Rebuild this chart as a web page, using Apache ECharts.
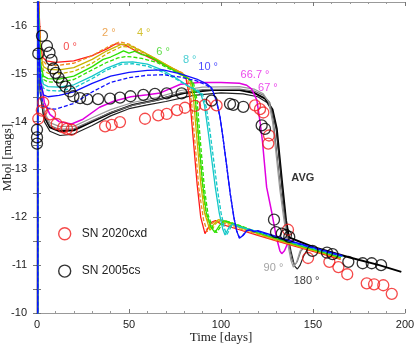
<!DOCTYPE html>
<html>
<head>
<meta charset="utf-8">
<script src="https://cdn.jsdelivr.net/npm/echarts@6/dist/echarts.min.js"></script>
<style>
  html, body { margin: 0; padding: 0; background: #fff; }
  #chart { width: 415px; height: 345px; }
</style>
</head>
<body>
<div id="chart"></div>
<script>
// observed light curves [days, Mbol]
const sn2020cxd = [
  [0.7, -14.06], [2.6, -14.23], [3.4, -14.40], [7.1, -14.15], [10.7, -13.95], [14.3, -13.88],
  [16.3, -13.85], [18.8, -13.83], [37, -13.90], [40.6, -13.93], [45.1, -13.99], [58.7, -14.06],
  [65.9, -14.13], [70.5, -14.16], [76.1, -14.24], [80.4, -14.29], [85.9, -14.33], [91.3, -14.35],
  [97.6, -14.34], [118.5, -14.34], [121.2, -14.26], [123, -14.19], [126.1, -13.71], [125.7, -13.54],
  [136.4, -11.74], [147.3, -11.15], [158.9, -11.07], [163.8, -10.96], [168.6, -10.81],
  [179.2, -10.62], [183.2, -10.60], [188.2, -10.58], [192.8, -10.40]
];
const sn2005cs = [
  [0, -13.54], [0, -13.67], [0, -13.83], [0.7, -15.42], [2.7, -15.79], [5.4, -15.58], [6.8, -15.44],
  [7.9, -15.29], [8.9, -15.11], [10.1, -15.02], [11.7, -14.92], [13.6, -14.82], [15.5, -14.73],
  [17.9, -14.63], [19.8, -14.53], [23.4, -14.49], [27.3, -14.47], [33.2, -14.47], [39.7, -14.48],
  [45.1, -14.50], [50.8, -14.53], [57.8, -14.56], [64.1, -14.58], [70.5, -14.59], [78.6, -14.59],
  [94.9, -14.44], [104.9, -14.37], [106.7, -14.35], [112.1, -14.31], [122.1, -13.92], [123.9, -13.85],
  [128.8, -11.95], [129.9, -11.69], [133, -11.66], [135.3, -11.63], [137.1, -11.59], [149.7, -11.30],
  [157.6, -11.26], [160.6, -11.23], [169.2, -11.07], [177, -11.04], [181.9, -11.04], [187, -11.00]
];

// model light curves [days, Mbol]
const deg0 = [
  [0.4, -9.9], [0.5, -16.9], [1, -16.4], [2, -15.6], [3, -15.35], [5, -15.27], [10, -15.24], [20, -15.27],
  [30, -15.38], [38, -15.52], [43, -15.63], [48, -15.6], [55, -15.45], [62, -15.32], [70, -15.17],
  [77, -15.05], [81, -14.9], [83, -14.5], [85, -13.6], [87, -12.7], [89, -12.0], [91.3, -11.66],
  [93, -11.78], [95, -11.9], [97, -11.93], [100, -11.86], [110, -11.74], [120, -11.62], [130, -11.51],
  [140, -11.4], [150, -11.29], [160, -11.18], [165, -11.12]
];
const deg2 = [
  [0.4, -9.9], [0.5, -16.9], [1, -16.3], [2, -15.5], [3, -15.28], [5, -15.2], [10, -15.17], [20, -15.22],
  [30, -15.38], [38, -15.55], [45, -15.67], [50, -15.62], [57, -15.47], [64, -15.32], [72, -15.15],
  [79, -15.02], [82, -14.88], [84, -14.4], [86, -13.5], [88, -12.6], [90.5, -11.95], [92.5, -11.7],
  [94.5, -11.85], [97, -11.93], [100, -11.9], [110, -11.76], [120, -11.64], [130, -11.52],
  [140, -11.41], [150, -11.3], [160, -11.19], [165, -11.13]
];
const deg4 = [
  [0.4, -9.9], [0.5, -16.9], [1, -16.2], [2, -15.4], [3.5, -15.15], [6, -15.09], [12, -15.08], [20, -15.13],
  [30, -15.3], [38, -15.48], [46, -15.62], [50, -15.6], [57, -15.47], [64, -15.33], [72, -15.15],
  [80, -14.98], [83, -14.88], [85, -14.5], [87, -13.6], [89, -12.7], [91, -12.1], [94, -11.73],
  [96, -11.85], [98.5, -11.95], [101, -11.92], [110, -11.79], [120, -11.66], [130, -11.54],
  [140, -11.42], [150, -11.31], [160, -11.2], [165, -11.14]
];
const deg4b = [
  [0.4, -9.9], [0.5, -16.9], [1, -16.1], [2, -15.3], [3.5, -15.07], [6, -15.01], [12, -15.0], [20, -15.05],
  [30, -15.22], [38, -15.42], [46, -15.57], [50, -15.56], [57, -15.45], [64, -15.32], [72, -15.15],
  [80, -14.98], [84, -14.84], [86, -14.45], [88, -13.5], [90, -12.6], [92, -12.0], [95, -11.74],
  [97, -11.86], [99.5, -11.95], [102, -11.93], [110, -11.81], [120, -11.67], [130, -11.55],
  [140, -11.43], [150, -11.32], [160, -11.21], [165, -11.15]
];
const deg6 = [
  [0.4, -9.9], [0.5, -16.9], [1, -16.0], [2, -15.2], [3.5, -14.95], [6, -14.9], [12, -14.89], [20, -14.95],
  [30, -15.15], [36, -15.3], [40, -15.35], [44, -15.42], [47, -15.48], [50, -15.43], [53, -15.47],
  [57, -15.4], [60, -15.38], [65, -15.28], [72, -15.12], [80, -14.95], [84, -14.85], [86, -14.5],
  [88, -13.6], [90, -12.7], [92, -12.1], [94.5, -11.8], [96.7, -11.68], [99, -11.82], [101.5, -11.93],
  [104, -11.9], [110, -11.82], [120, -11.68], [130, -11.56], [140, -11.44], [150, -11.33],
  [160, -11.22], [165, -11.16]
];
const deg6b = [
  [0.4, -9.9], [0.5, -16.9], [1, -15.9], [2, -15.1], [3.5, -14.88], [6, -14.83], [12, -14.82], [20, -14.88],
  [30, -15.08], [38, -15.24], [44, -15.33], [48, -15.36], [52, -15.35], [57, -15.32], [65, -15.24],
  [72, -15.1], [80, -14.94], [85, -14.82], [87, -14.45], [89, -13.5], [91, -12.6], [93, -12.05],
  [95.5, -11.78], [97.7, -11.68], [100, -11.82], [102.5, -11.92], [105, -11.9], [110, -11.83],
  [120, -11.69], [130, -11.57], [140, -11.45], [150, -11.34], [160, -11.23], [165, -11.17]
];
const deg8 = [
  [0.4, -9.9], [0.5, -16.9], [1, -15.8], [2, -15.0], [3.5, -14.78], [6, -14.73], [12, -14.72], [20, -14.77],
  [30, -14.95], [38, -15.12], [46, -15.24], [52, -15.25], [60, -15.2], [68, -15.08], [76, -14.9],
  [82, -14.75], [86, -14.66], [89, -14.58], [91, -14.35], [93, -13.8], [95, -13.2], [97, -12.6],
  [99, -12.1], [101, -11.75], [102.2, -11.63], [104.5, -11.8], [106.5, -11.86], [110, -11.8],
  [120, -11.7], [130, -11.58], [140, -11.46], [150, -11.35], [160, -11.24], [166, -11.18]
];
const deg8b = [
  [0.4, -9.9], [0.5, -16.9], [1, -15.7], [2, -14.9], [3.5, -14.7], [6, -14.65], [12, -14.64], [20, -14.7],
  [30, -14.9], [38, -15.08], [46, -15.2], [52, -15.21], [60, -15.16], [68, -15.04], [76, -14.88],
  [82, -14.74], [87, -14.66], [90, -14.57], [92, -14.3], [94, -13.8], [96, -13.2], [98, -12.6],
  [100, -12.1], [102, -11.75], [103.2, -11.64], [105.5, -11.8], [107.5, -11.85], [110, -11.8],
  [120, -11.7], [130, -11.58], [140, -11.46], [150, -11.35], [160, -11.24], [166, -11.18]
];
const deg10 = [
  [0.4, -9.9], [0.5, -16.9], [1, -15.6], [2, -14.8], [3.5, -14.56], [6, -14.52], [12, -14.55], [20, -14.62],
  [30, -14.8], [40, -14.95], [50, -15.03], [60, -15.07], [68.6, -15.08], [78, -15.0], [86.8, -14.89],
  [92.2, -14.79], [95, -14.7], [97.7, -14.41], [99.5, -14.09], [101.3, -13.6], [103, -13.1],
  [105, -12.5], [107, -12.0], [108.5, -11.72], [110, -11.56], [112, -11.62], [114, -11.72],
  [116, -11.74], [118, -11.7], [120, -11.72], [130, -11.6], [140, -11.48], [150, -11.37],
  [160, -11.26], [166, -11.2]
];
const deg10b = [
  [0.4, -9.9], [0.5, -16.9], [1, -15.4], [2, -14.6], [3.5, -14.32], [6, -14.28], [10, -14.26], [20, -14.38],
  [30, -14.62], [40, -14.82], [50, -14.92], [60, -14.97], [68.6, -14.98], [78, -14.93], [86.8, -14.85],
  [92.2, -14.76], [95, -14.68], [97.7, -14.4], [99.5, -14.09], [101.3, -13.6], [103, -13.1],
  [105, -12.5], [107, -12.0], [108.5, -11.72], [110, -11.58], [112, -11.63], [114, -11.72],
  [116, -11.73], [118, -11.7], [120, -11.71], [130, -11.59], [140, -11.47], [150, -11.36],
  [160, -11.25], [166, -11.19]
];
const deg667 = [
  [0.4, -9.9], [0.5, -16.9], [1, -15.8], [2, -14.9], [4, -14.4], [7, -14.15], [12, -14.0], [18.8, -13.95],
  [25, -14.05], [34, -14.3], [42, -14.43], [51, -14.52], [60, -14.56], [67, -14.6], [78, -14.78],
  [88, -14.82], [100, -14.82], [110, -14.8], [114, -14.76], [116.7, -14.68], [119.5, -14.45],
  [121.2, -14.0], [122.5, -13.6], [124.8, -12.63], [127.6, -12.1], [130, -11.6], [132, -11.3],
  [133, -11.24], [134.5, -11.3], [136.6, -11.49], [138, -11.52], [140, -11.47], [150, -11.35],
  [160, -11.24], [165, -11.18]
];
const deg90 = [
  [0.4, -9.9], [0.5, -16.9], [1, -15.6], [2, -14.7], [4, -14.2], [7, -13.98], [12, -13.9], [20, -13.9],
  [30, -14.08], [40, -14.25], [52, -14.4], [65, -14.5], [78, -14.65], [90, -14.72], [110, -14.73],
  [118, -14.68], [123, -14.58], [126, -14.4], [128, -14.0], [130, -13.3], [132, -12.57], [134, -12.0],
  [136, -11.5], [138, -11.1], [139.3, -10.96], [141, -11.05], [143, -11.3], [145, -11.38],
  [150, -11.34], [160, -11.23], [165, -11.17]
];
const deg90b = [
  [0.4, -9.9], [0.5, -16.9], [1, -15.5], [2, -14.6], [4, -14.15], [7, -13.92], [12, -13.84], [20, -13.85],
  [30, -14.02], [40, -14.19], [52, -14.34], [65, -14.45], [78, -14.6], [90, -14.67], [110, -14.68],
  [118, -14.64], [123, -14.55], [126.5, -14.4], [128.5, -14.0], [130.5, -13.3], [132.5, -12.57],
  [134.5, -12.0], [136.5, -11.5], [138.5, -11.12], [140, -11.0], [141.5, -11.08], [143.5, -11.3],
  [145.5, -11.38], [150, -11.34], [160, -11.23], [165, -11.17]
];
const deg180 = [
  [0.4, -9.9], [0.5, -16.9], [1, -15.4], [2, -14.5], [4, -14.0], [7, -13.8], [12.5, -13.71], [20, -13.74],
  [30, -13.92], [40, -14.12], [50, -14.27], [60, -14.35], [70, -14.42], [85, -14.55], [100, -14.6],
  [112, -14.58], [120, -14.52], [125, -14.4], [128, -14.2], [130, -13.85], [132, -13.1], [134, -12.3],
  [136, -11.7], [138, -11.3], [140, -10.98], [141.5, -10.92], [143, -11.0], [145, -11.2],
  [147, -11.33], [150, -11.34], [160, -11.23], [165, -11.17]
];
const avg = [
  [0.4, -9.9], [0.5, -16.9], [1, -15.5], [2, -14.6], [4, -14.1], [7, -13.88], [12, -13.8], [20, -13.82],
  [30, -14.0], [40, -14.18], [52, -14.35], [65, -14.45], [80, -14.6], [95, -14.66], [110, -14.66],
  [118, -14.6], [124, -14.48], [128, -14.25], [130.3, -13.85], [133, -12.8], [135.3, -11.94],
  [137, -11.58], [150, -11.38], [170, -11.16], [186, -11.0], [198, -10.86]
];

// curve labels
const annoText = ['0 °', '2 °', '4 °', '6 °', '8 °', '10 °', '66.7 °', '67 °', 'AVG', '90 °', '180 °'];
const annoPos = [
  [18, -15.55], [39, -15.85], [58, -15.85], [68.5, -15.45], [83, -15.28], [93, -15.14],
  [118.5, -14.98], [125.5, -14.71], [144.5, -12.82], [128.5, -10.94], [146.5, -10.67]
];
const annoColor = ['#f21d1d', '#e8912c', '#c9b300', '#35d61a', '#1ec3c8', '#1a1aff',
  '#e619e6', '#e619e6', '#000', '#8c8c8c', '#000'];

const chart = echarts.init(document.getElementById('chart'));

function curve(name, data, color, width, dashed) {
  return {
    name: name,
    type: 'line',
    data: data,
    symbol: 'none',
    silent: true,
    clip: true,
    lineStyle: { color: color, width: width, type: dashed ? [4, 2] : 'solid' }
  };
}

function obs(name, data, color) {
  return {
    name: name,
    type: 'scatter',
    data: data,
    symbol: 'circle',
    symbolSize: 11,
    z: 5,
    itemStyle: { color: 'rgba(0,0,0,0)', borderColor: color, borderWidth: 1.3 }
  };
}

const tickStyle = { inside: true, length: 4, lineStyle: { color: '#777' } };
const lineStyle = { lineStyle: { color: '#999', width: 1 } };

chart.setOption({
  animation: false,
  grid: { left: 37, right: 10, top: 2, bottom: 32, containLabel: false, outerBoundsMode: 'none' },
  xAxis: [
    {
      type: 'value', min: 0, max: 200, interval: 50,
      name: 'Time [days]', nameLocation: 'middle', nameGap: 18, nameMoveOverlap: false,
      nameTextStyle: { fontFamily: 'Liberation Serif', fontSize: 13, color: '#222' },
      axisLine: lineStyle, axisTick: tickStyle,
      minorTick: { show: true, splitNumber: 5, length: 2, lineStyle: { color: '#999' } },
      axisLabel: { fontSize: 11, color: '#222', margin: 6, fontFamily: 'Liberation Sans' },
      splitLine: { show: false }
    },
    {
      type: 'value', min: 0, max: 200, interval: 50, position: 'top',
      axisLine: lineStyle, axisTick: tickStyle,
      minorTick: { show: true, splitNumber: 5, length: 2, lineStyle: { color: '#999' } },
      axisLabel: { show: false }, splitLine: { show: false }
    }
  ],
  yAxis: [
    {
      type: 'value', min: -16.5, max: -10, interval: 0.5, inverse: true,
      name: 'Mbol [mags]', nameLocation: 'middle', nameGap: 23, nameMoveOverlap: false,
      nameTextStyle: { fontFamily: 'Liberation Serif', fontSize: 13, color: '#222' },
      axisLine: lineStyle, axisTick: tickStyle,
      axisLabel: {
        fontSize: 11, color: '#222', margin: 10, fontFamily: 'Liberation Sans',
        formatter: v => (Number.isInteger(v) ? String(v) : '')
      },
      splitLine: { show: false }
    },
    {
      type: 'value', min: -16.5, max: -10, interval: 0.5, inverse: true, position: 'right',
      axisLine: lineStyle, axisTick: tickStyle,
      axisLabel: { show: false }, splitLine: { show: false }
    }
  ],
  legend: {
    orient: 'vertical', left: 53, top: 222, itemGap: 24, itemWidth: 12, itemHeight: 12,
    textStyle: { fontSize: 12, color: '#222', fontFamily: 'Liberation Sans', padding: [0, 0, 0, 6] },
    data: [
      { name: 'SN 2020cxd', icon: 'circle',
        itemStyle: { color: 'rgba(0,0,0,0)', borderColor: '#f21d1d', borderWidth: 1.4 } },
      { name: 'SN 2005cs', icon: 'circle',
        itemStyle: { color: 'rgba(0,0,0,0)', borderColor: '#000', borderWidth: 1.4 } }
    ]
  },
  series: [
    curve('avg', avg, '#000', 2, false),
    curve('180', deg180, '#222', 1.2, false),
    curve('90b', deg90b, '#6e6e6e', 1.2, false),
    curve('90', deg90, '#9a9a9a', 1.2, false),
    curve('66.7', deg667, '#e000e0', 1.5, false),
    curve('0', deg0, '#ff1a1a', 1.3, false),
    curve('2', deg2, '#ee8a1c', 1.3, true),
    curve('4', deg4, '#c9b300', 1.3, false),
    curve('4b', deg4b, '#c9b300', 1.3, true),
    curve('6', deg6, '#2ee000', 1.3, false),
    curve('6b', deg6b, '#2ee000', 1.3, true),
    curve('8', deg8, '#14c8c8', 1.3, false),
    curve('8b', deg8b, '#14c8c8', 1.3, true),
    curve('10b', deg10b, '#1010ff', 1.3, true),
    curve('10', deg10, '#1010ff', 1.3, false),
    obs('SN 2020cxd', sn2020cxd, '#f21d1d'),
    obs('SN 2005cs', sn2005cs, '#000'),
    {
      name: 'labels',
      type: 'scatter',
      symbolSize: 0,
      silent: true,
      z: 6,
      data: annoText.map((s, i) => ({
        value: annoPos[i],
        label: {
          show: true, position: 'inside', formatter: s,
          color: annoColor[i], fontSize: 11, fontFamily: 'Liberation Sans',
          fontWeight: s === 'AVG' ? 'bold' : 'normal'
        }
      }))
    }
  ]
});
</script>
</body>
</html>
